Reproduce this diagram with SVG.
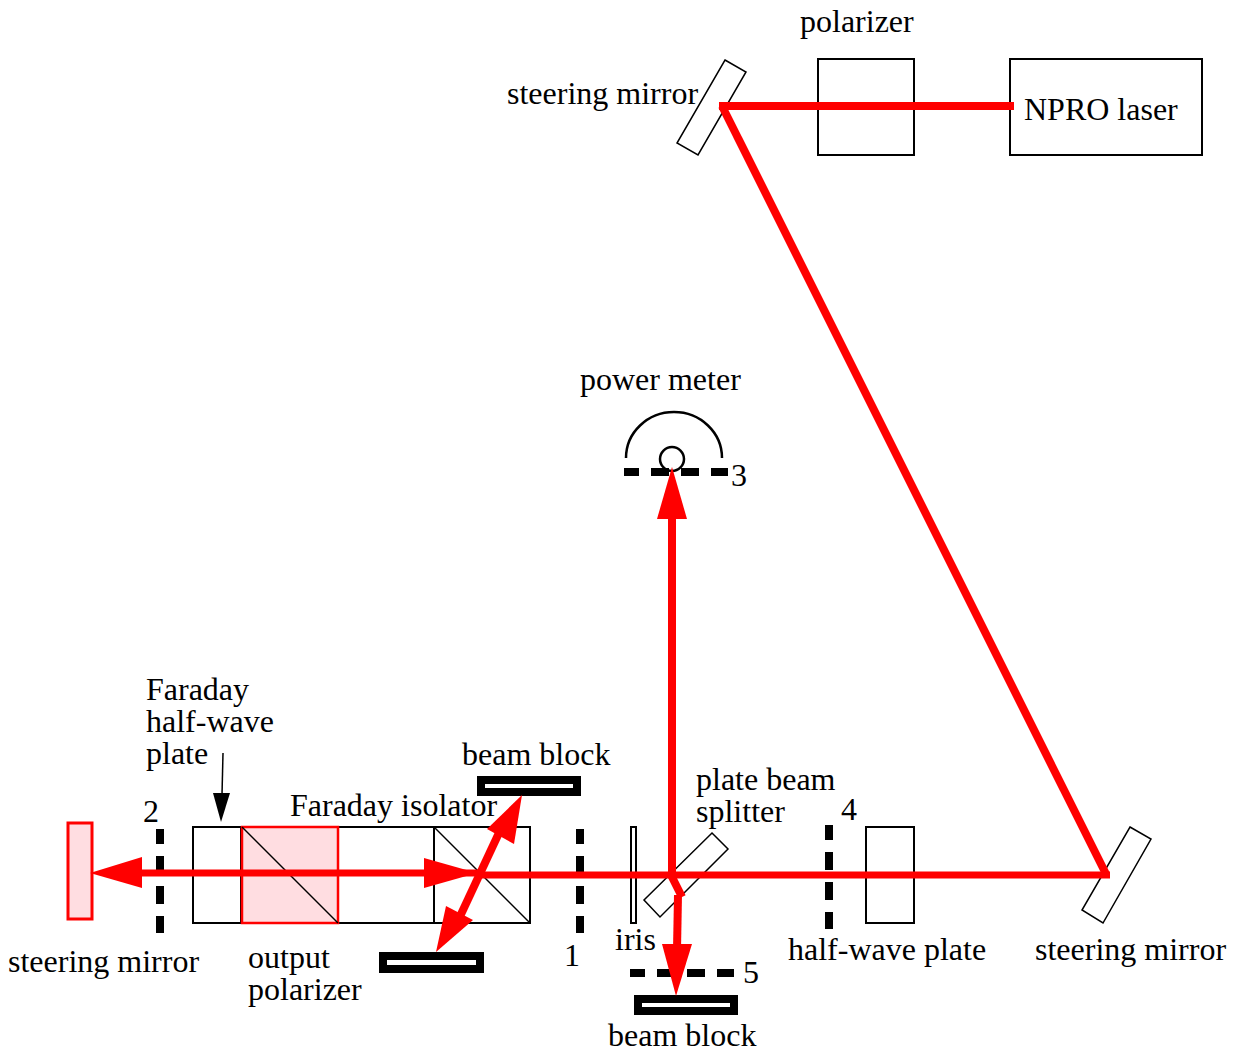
<svg xmlns="http://www.w3.org/2000/svg" width="1237" height="1051" viewBox="0 0 1237 1051">
<style>
text{font-family:"Liberation Serif","Times New Roman",serif;font-size:32px;fill:#000}
.b{fill:none;stroke:#000;stroke-width:2}
.c{fill:none;stroke:#000;stroke-width:2.5}
.t{fill:none;stroke:#000;stroke-width:1.5}
.d{fill:none;stroke:#000;stroke-width:8;stroke-dasharray:18 12;stroke-dashoffset:3}
.k{fill:none;stroke:#000;stroke-width:8}
.r{fill:none;stroke:#f00;stroke-width:8}
.s{fill:none;stroke:#f00;stroke-width:7}
.h{fill:#f00;stroke:none}
.p{fill:#ffdde1;stroke:#f00;stroke-width:2.5}
.m{fill:#ffdde1;stroke:#f00;stroke-width:3}
</style>
<rect width="1237" height="1051" fill="#fff"/>
<g id="laser"><rect class="b" x="1010" y="59" width="192" height="96"/><text x="1024" y="120">NPRO laser</text></g>
<g id="polarizer"><rect class="b" x="818" y="59" width="96" height="96"/><text x="800" y="32">polarizer</text></g>
<g id="mirror-top"><polygon class="t" points="725,60 746,72 698,155 677,143"/><text x="507" y="104">steering mirror</text></g>
<g id="mirror-right"><polygon class="t" points="1130,827 1151,839 1103,923 1082,910"/><text x="1035" y="960">steering mirror</text></g>
<g id="mirror-left"><rect class="m" x="68" y="823" width="24" height="96"/><text x="8" y="972">steering mirror</text></g>
<g id="power-meter"><path class="c" d="M626 458A47 45 0 0 1 722 458"/><circle class="c" cx="672" cy="459" r="12"/><line class="d" x1="624" y1="472" x2="728" y2="472"/><text x="580" y="390">power meter</text><text x="731" y="486">3</text></g>
<g id="half-wave-faraday"><rect class="b" x="193" y="827" width="48" height="96"/><text x="146" y="700">Faraday</text><text x="146" y="732">half-wave</text><text x="146" y="764">plate</text><line class="t" x1="223" y1="753" x2="222" y2="795"/><polygon points="213,793 230,793 221,822" fill="#000"/></g>
<g id="isolator"><rect class="b" x="338" y="827" width="192" height="96"/><line class="b" x1="434" y1="827" x2="434" y2="923"/><line class="t" x1="434" y1="827" x2="530" y2="923"/><text x="290" y="816">Faraday isolator</text></g>
<g id="output-polarizer"><rect class="p" x="242" y="827" width="96" height="96"/><line class="t" x1="242" y1="827" x2="338" y2="923"/><text x="248" y="968">output</text><text x="248" y="1000">polarizer</text></g>
<g id="block-top"><rect class="k" x="481" y="780" width="96" height="12"/><text x="462" y="765">beam block</text></g>
<g id="block-left"><rect class="k" x="383" y="956" width="97" height="13"/></g>
<g id="block-bottom"><rect class="k" x="638" y="999" width="96" height="12"/><text x="608" y="1046">beam block</text></g>
<g id="iris"><rect class="b" x="631" y="827" width="5" height="96"/><text x="615" y="950">iris</text></g>
<g id="splitter"><polygon class="t" points="712,833 728,849 660,917 644,900"/><text x="696" y="790">plate beam</text><text x="696" y="822">splitter</text></g>
<g id="half-wave"><rect class="b" x="866" y="827" width="48" height="96"/><text x="788" y="960">half-wave plate</text></g>
<g id="stop-1"><line class="d" x1="580" y1="829" x2="580" y2="933"/><text x="564" y="966">1</text></g>
<g id="stop-2"><line class="d" x1="160" y1="829" x2="160" y2="933"/><text x="143" y="822">2</text></g>
<g id="stop-4"><line class="d" x1="829" y1="825" x2="829" y2="929"/><text x="841" y="820">4</text></g>
<g id="stop-5"><line class="d" x1="630" y1="973" x2="734" y2="973"/><text x="743" y="983">5</text></g>
<g id="connectors">
<path class="r" d="M1014 106H719"/>
<path class="r" d="M722 106L1106 874"/>
<path class="s" d="M1110 875H480"/>
<path class="s" d="M480 873H130"/>
<polygon class="h" points="90,873 142,857 142,888"/>
<polygon class="h" points="477,873 424,858 424,888"/>
<path class="r" d="M505 820L456 925"/>
<polygon class="h" points="522,795 487,829 514,844"/>
<polygon class="h" points="436,952 446,906 473,920"/>
<path class="r" d="M672 875V515"/>
<polygon class="h" points="672,467 657,519 687,519"/>
<path class="r" d="M670 873L682 897"/>
<path class="r" d="M678 895L677 950"/>
<polygon class="h" points="676,996 662,944 692,944"/>
</g>
</svg>
